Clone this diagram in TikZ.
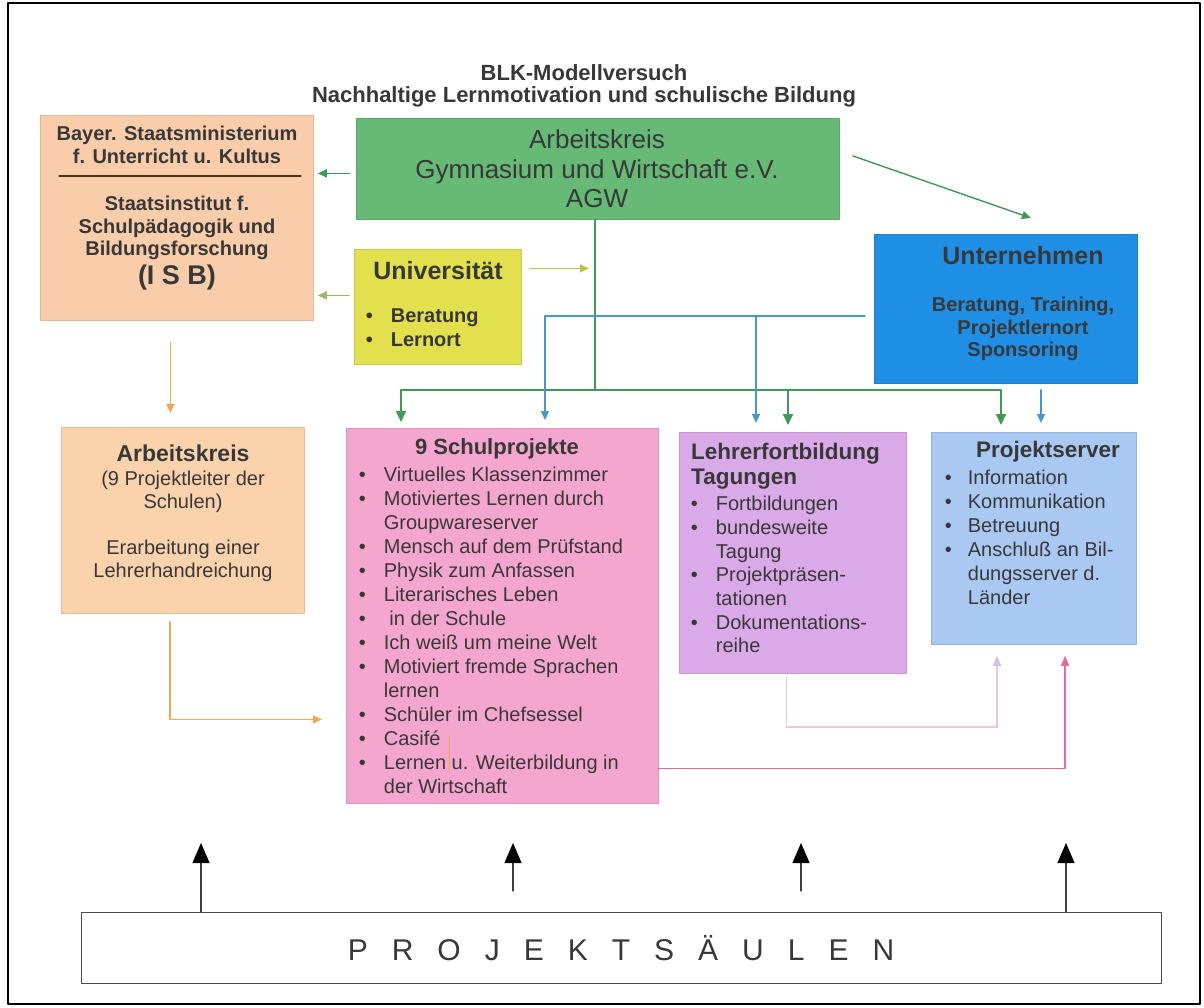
\documentclass[tikz,border=0pt]{standalone}
\usepackage{fontspec}
\setmainfont{Liberation Sans}
\usetikzlibrary{arrows.meta}
\definecolor{txtgray}{HTML}{383838}
\definecolor{peach}{HTML}{FACDAA}
\definecolor{peachtwo}{HTML}{FAD2AC}
\definecolor{agwgreen}{HTML}{66BA76}
\definecolor{unigelb}{HTML}{E3E04E}
\definecolor{untblau}{HTML}{1E8FE4}
\definecolor{schulpink}{HTML}{F4A6CF}
\definecolor{lehrviolett}{HTML}{DAA9E8}
\definecolor{serverblau}{HTML}{A9C8F2}
\definecolor{gdark}{HTML}{3E9A56}
\definecolor{bdark}{HTML}{4696D8}
\definecolor{oliv}{HTML}{9DBA58}
\definecolor{gelbgruen}{HTML}{B8C648}
\definecolor{orangel}{HTML}{F4A84E}
\definecolor{rosal}{HTML}{F4C2DC}
\definecolor{lavendel}{HTML}{D4BEEE}
\definecolor{pinkl}{HTML}{E8689F}
\newcommand{\fsz}[2]{\fontsize{#1}{#2}\selectfont}
\newcommand{\itm}[2][25pt]{\makebox[#1][l]{\textbullet}#2}
\newcommand{\cnt}[2][25pt]{\hspace*{#1}#2}
\begin{document}
\begin{tikzpicture}[x=1pt,y=-1pt,line cap=round,line join=round,
  box/.style={rectangle,inner sep=0pt,anchor=north west,fill=#1,draw=#1!90!black,line width=0.8pt},
  txt/.style={inner sep=0pt,text=txtgray,align=center},
  lst/.style={inner sep=0pt,text=txtgray,align=left,anchor=north west},
  gline/.style={draw=gdark,line width=1.8pt},
  garrow/.style={gline,-{Triangle[length=11pt,width=10pt]}},
  gsmall/.style={draw=gdark,line width=1.4pt,-{Triangle[length=9pt,width=8pt]}},
  barrow/.style={draw=bdark,line width=1.3pt,-{Triangle[length=9pt,width=8pt]}},
  oarrow/.style={draw=orangel,line width=1.4pt,-{Triangle[length=9pt,width=8pt]}},
  lparrow/.style={draw=rosal,line width=1.4pt,-{Triangle[length=10pt,width=8pt,color=lavendel]}},
  parrow/.style={draw=pinkl,line width=1.4pt,-{Triangle[length=10pt,width=8pt]}},
  blarrow/.style={draw=black!75,line width=1.1pt,-{Triangle[length=20pt,width=17pt,color=black]}}]
\useasboundingbox (0,0) rectangle (1204,1007);
\draw[line width=2pt] (8,3) rectangle (1200,1004);

% title
\node[txt,font=\bfseries\fsz{22}{22}] (title) at (584,86)
  {BLK-Modellversuch\\Nachhaltige Lernmotivation und schulische Bildung};

% boxes
\node[box=peach,minimum width=273pt,minimum height=205pt] (bayer) at (40,115) {};
\node[box=agwgreen,minimum width=483pt,minimum height=101pt] (agw) at (356,118) {};
\node[box=unigelb,minimum width=167pt,minimum height=115pt] (uni) at (354,249) {};
\node[box=untblau,minimum width=263pt,minimum height=149pt] (unt) at (874,234) {};
\node[box=peachtwo,minimum width=243pt,minimum height=186pt] (ak) at (61,427) {};
\node[box=schulpink,minimum width=312pt,minimum height=375pt] (schul) at (346,428) {};
\node[box=lehrviolett,minimum width=227pt,minimum height=241pt] (lehrer) at (679,432) {};
\node[box=serverblau,minimum width=205pt,minimum height=212pt] (server) at (931,432) {};
\node[rectangle,inner sep=0pt,anchor=north west,draw=black!70,line width=1.2pt,fill=white,
  minimum width=1080pt,minimum height=71pt] (saeulen) at (81,912) {};

% texts
\node[txt,font=\bfseries\fsz{20}{23}] (bayertop) at (177,145)
  {Bayer. Staatsministerium\\f. Unterricht u. Kultus};
\draw[draw=black!60!brown,line width=1.2pt] (59,176) -- (301,176);
\node[txt,font=\bfseries\fsz{20}{22.5}] (bayerbot) at (177,228)
  {Staatsinstitut f.\\Schulpädagogik und\\Bildungsforschung};
\node[txt,font=\bfseries\fsz{27}{30}] (isb) at (177,278) {(I S B)};

\node[txt,font=\fsz{26}{29.5}] (agwtxt) at (597,169)
  {Arbeitskreis\\Gymnasium und Wirtschaft e.V.\\AGW};

\node[txt,font=\bfseries\fsz{25}{28}] (unitit) at (438,271) {Universität};
\node[lst,font=\bfseries\fsz{20}{24}] (unilst) at (365.7,309)
  {\itm{Beratung}\\\itm{Lernort}};

\node[txt,font=\bfseries\fsz{25}{28}] (unttit) at (1023,256) {Unternehmen};
\node[txt,font=\bfseries\fsz{20}{22.5}] (untsub) at (1023,329)
  {Beratung, Training,\\Projektlernort\\Sponsoring};

\node[txt,font=\bfseries\fsz{23}{24}] (aktit) at (183,453) {Arbeitskreis};
\node[txt,font=\fsz{20}{23}] (aksub) at (183,526)
  {(9 Projektleiter der\\Schulen)\\[23pt]Erarbeitung einer\\Lehrerhandreichung};

\node[txt,font=\bfseries\fsz{22}{25}] (schultit) at (497,449) {9 Schulprojekte};
\node[lst,font=\fsz{20}{24}] (schullst) at (358.7,467)
  {\itm{Virtuelles Klassenzimmer}\\
   \itm{Motiviertes Lernen durch}\\
   \cnt{Groupwareserver}\\
   \itm{Mensch auf dem Prüfstand}\\
   \itm{Physik zum Anfassen}\\
   \itm{Literarisches Leben}\\
   \itm{\ in der Schule}\\
   \itm{Ich weiß um meine Welt}\\
   \itm{Motiviert fremde Sprachen}\\
   \cnt{lernen}\\
   \itm{Schüler im Chefsessel}\\
   \itm{Casifé}\\
   \itm{Lernen u. Weiterbildung in}\\
   \cnt{der Wirtschaft}};
\draw[draw=orangel,line width=0.8pt] (449,735) -- (449,773);

\node[lst,font=\bfseries\fsz{22.5}{25}] (lehrtit) at (691,443) {Lehrerfortbildung\\Tagungen};
\node[lst,font=\fsz{20}{23.7}] (lehrlst) at (690.7,496)
  {\itm{Fortbildungen}\\
   \itm{bundesweite}\\
   \cnt{Tagung}\\
   \itm{Projektpräsen-}\\
   \cnt{tationen}\\
   \itm{Dokumentations-}\\
   \cnt{reihe}};

\node[txt,font=\bfseries\fsz{22.5}{25}] (servtit) at (1048,452) {Projektserver};
\node[lst,font=\fsz{20}{24}] (servlst) at (944.7,470)
  {\itm[23pt]{Information}\\
   \itm[23pt]{Kommunikation}\\
   \itm[23pt]{Betreuung}\\
   \itm[23pt]{Anschluß an Bil-}\\
   \cnt[23pt]{dungsserver d.}\\
   \cnt[23pt]{Länder}};

\node[txt,font=\fsz{30}{32}] (saeultxt) at (621,948)
  {\spaceskip=24pt P R O J E K T S Ä U L E N};

% connectors
\coordinate (gbus) at (595,390);
\coordinate (bbus) at (545,316);
\draw[gline] (agw.south -| gbus) -- (gbus);
\draw[garrow,shorten >=6pt] (gbus) -| ([xshift=55pt]schul.north west);
\draw[garrow,shorten >=7pt] (gbus) -| ([xshift=109pt]lehrer.north west);
\draw[garrow,shorten >=7pt] (gbus) -| ([xshift=70pt]server.north west);
\coordinate (agwl) at ([xshift=-6pt,yshift=-4.5pt]agw.west);
\draw[gsmall,shorten >=4pt] (agwl) -- (agwl -| bayer.east);
\draw[gsmall] ([shift={(13pt,13pt)}]agw.east) -- ([shift={(25pt,16pt)}]unt.north);

\coordinate (unil) at ([xshift=-5pt,yshift=11.5pt]uni.west);
\draw[gsmall,draw=oliv,shorten >=4pt] (unil) -- (unil -| bayer.east);
\coordinate (unir) at ([xshift=8pt,yshift=38.5pt]uni.east);
\draw[gsmall,draw=gelbgruen,shorten >=6pt] (unir) -- (unir -| gbus);

\draw[barrow,shorten <=9pt,shorten >=8pt] (unt.west |- bbus) -| ([xshift=199pt]schul.north west);
\coordinate (lehb) at ([xshift=77pt]lehrer.north west);
\draw[barrow,shorten >=9pt] (lehb |- bbus) -- (lehb);
\coordinate (serb) at ([xshift=110pt]server.north west);
\draw[barrow,shorten <=6pt,shorten >=9pt] (unt.south -| serb) -- (serb);

\coordinate (bays) at ([xshift=-6.5pt]bayer.south);
\draw[oarrow,shorten <=22pt,shorten >=14pt] (bays) -- (bays |- ak.north);
\coordinate (aks) at ([xshift=-13pt]ak.south);
\coordinate (schw) at ([yshift=-103.5pt]schul.west);
\draw[oarrow,shorten <=8pt,shorten >=24pt] (aks) |- (schw);

\coordinate (lehs) at ([xshift=-6.5pt]lehrer.south);
\coordinate (serl) at ([xshift=66pt]server.south west);
\draw[lparrow,shorten <=4pt,shorten >=11pt] (lehs) -- ++(0,53) -| (serl);
\coordinate (sche) at ([yshift=-152.5pt]schul.east);
\coordinate (serp) at ([xshift=134pt]server.south west);
\draw[parrow,shorten >=11pt] (sche) -| (serp);

\foreach \dx/\s in {120/0,432/21,720/21,985/0}
  \draw[blarrow,shorten <=\s pt] ([xshift=\dx pt]saeulen.north west) -- ++(0,-69);
\end{tikzpicture}
\end{document}
